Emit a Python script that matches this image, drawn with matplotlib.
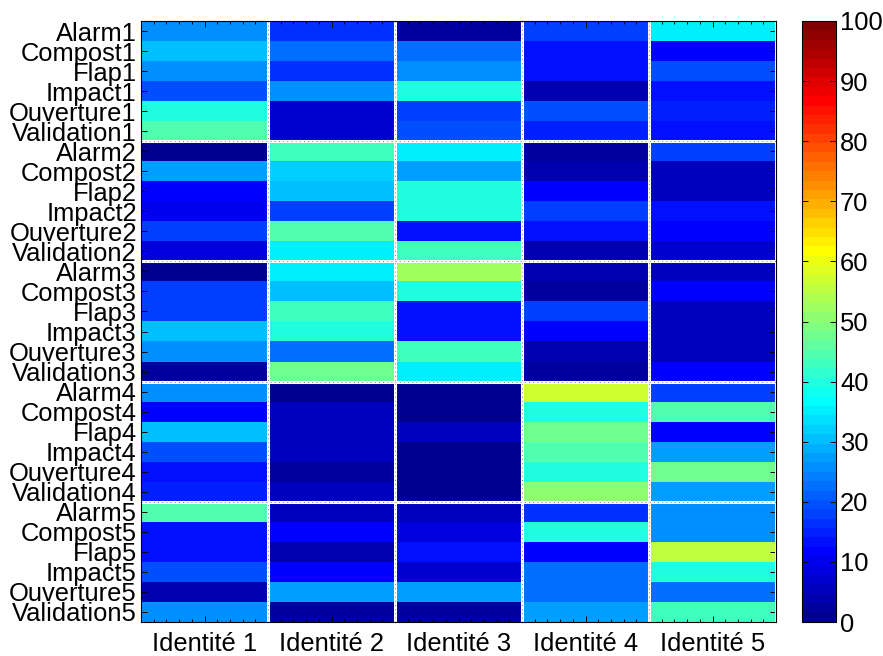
import numpy as np
import matplotlib
matplotlib.use('Agg')
import matplotlib.pyplot as plt
from matplotlib.colors import ListedColormap
from matplotlib.ticker import MultipleLocator

plt.rcParams['font.family'] = ['Liberation Sans', 'DejaVu Sans']

identities = ['Identité 1', 'Identité 2', 'Identité 3', 'Identité 4', 'Identité 5']
events = ['Alarm', 'Compost', 'Flap', 'Impact', 'Ouverture', 'Validation']
row_labels = [e + str(g) for g in range(1, 6) for e in events]

# one list per identity (column), 30 rows top to bottom
ident1 = [26, 31, 25, 19, 39.5, 44.5,
          1, 27, 12, 10, 18, 9,
          1, 18, 18, 30, 26, 3,
          26, 11, 30, 19.5, 13, 14.5,
          44.5, 13, 14, 19, 4, 26]
ident2 = [16, 22, 17, 26, 7, 7,
          43, 32, 30, 18.5, 45, 35,
          35, 30, 43, 39.5, 22.5, 47.5,
          1, 5, 5, 6, 2, 5.5,
          5, 11, 4.5, 11, 27, 3]
ident3 = [3, 22.5, 26, 39.5, 18, 19.5,
          35, 27, 39.5, 39.5, 14, 43,
          52.5, 39.5, 14, 14, 43, 35,
          1, 1, 5, 0.5, 0.5, 0.5,
          5, 8, 13, 7, 27, 3]
ident4 = [18.5, 13, 13, 4, 19.5, 14.5,
          2, 4, 11, 18, 13, 4,
          4, 2, 18, 11, 4.5, 2,
          57, 39.5, 47.5, 44.5, 39.5, 50.5,
          16, 39.5, 12, 22, 22, 28]
ident5 = [35, 11, 19.5, 13, 14.5, 13,
          18, 6, 6, 14, 11, 7,
          5, 11, 6, 5, 5, 11,
          18, 44.5, 11, 28, 47.5, 28,
          26, 26, 55.5, 39.5, 22, 43]


def matlab_jet(m=64):
    n = int(np.ceil(m / 4))
    u = np.concatenate([np.arange(1, n + 1) / n, np.ones(n - 1), np.arange(n, 0, -1) / n])
    g = int(np.ceil(n / 2)) - (1 if m % 4 == 1 else 0) + np.arange(1, len(u) + 1)
    r = g + n
    b = g - n
    J = np.zeros((m, 3))
    for idx, col in ((r, 0), (g, 1), (b, 2)):
        ok = (idx >= 1) & (idx <= m)
        J[idx[ok] - 1, col] = u[ok]
    return ListedColormap(J)


data = np.column_stack([ident1, ident2, ident3, ident4, ident5])

fig = plt.figure(figsize=(8.83, 6.56), dpi=100)
ax = fig.add_axes([141 / 883, 1 - 622 / 656, 635 / 883, 601 / 656])
cax = fig.add_axes([802 / 883, 1 - 622 / 656, 34 / 883, 601 / 656])

im = ax.imshow(data, cmap=matlab_jet(64), vmin=0, vmax=100, aspect='auto',
               interpolation='nearest')

# separators
for x in np.arange(0.5, 4.6, 1):
    ax.axvline(x, color='white', lw=2.2)
    ax.axvline(x, color='#555555', lw=0.6, ls=(0, (1, 4)))
for y in np.arange(5.5, 24.6, 6):
    ax.axhline(y, color='white', lw=2.2)
    ax.axhline(y, color='#555555', lw=0.6, ls=(0, (1, 4)))

ax.set_xticks(range(5))
ax.set_xticklabels(identities, fontsize=18.4)
ax.set_yticks(range(30))
ax.set_yticklabels(row_labels, fontsize=18.4)
ax.xaxis.set_minor_locator(MultipleLocator(0.1))
ax.tick_params(axis='both', which='both', direction='in', width=0.7,
               top=True, right=True)
ax.tick_params(which='major', length=4)
ax.tick_params(which='minor', length=2.5)
ax.tick_params(axis='x', which='major', pad=7)
ax.tick_params(axis='y', which='major', pad=3)
for s in ax.spines.values():
    s.set_linewidth(0.8)

cb = fig.colorbar(im, cax=cax, ticks=np.arange(0, 101, 10))
cb.ax.tick_params(labelsize=18.4, direction='in', length=4, width=0.7, left=True, pad=3)
cb.outline.set_linewidth(0.8)

fig.savefig('out.png', dpi=100)
